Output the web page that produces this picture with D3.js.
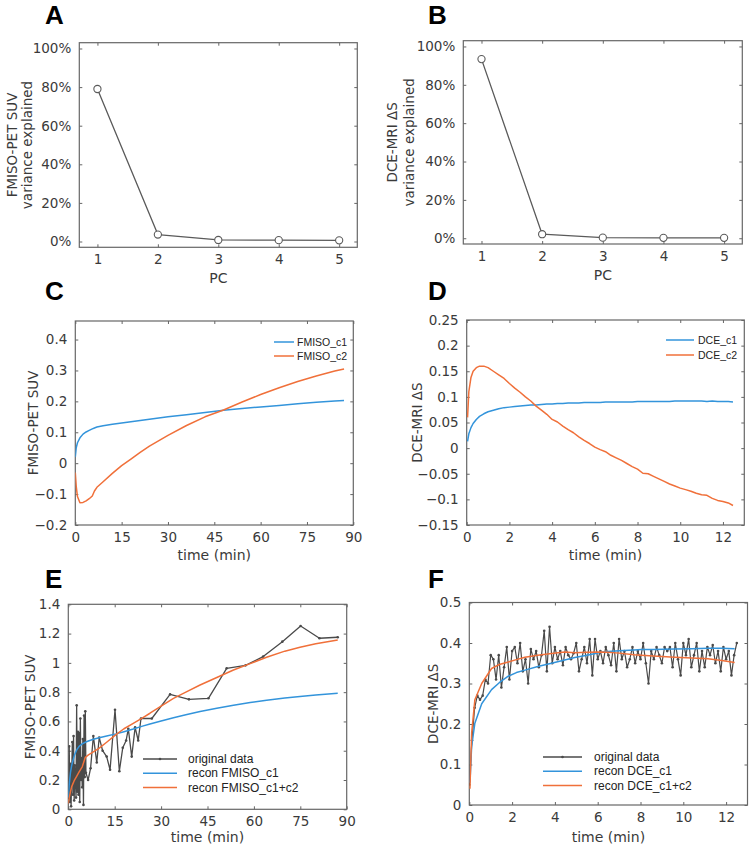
<!DOCTYPE html>
<html>
<head>
<meta charset="utf-8">
<script src="https://cdn.jsdelivr.net/npm/d3@7"></script>
<style>
  html, body { margin: 0; padding: 0; background: #fff; }
  svg { display: block; }
  .tick text { font-family: "DejaVu Sans", sans-serif; }
</style>
</head>
<body>
<svg id="chart" width="749" height="845"></svg>
<script>
// ---------------- DATA ----------------
// Panels A & B: variance explained per principal component
const pcs = [1, 2, 3, 4, 5];
const fmisoVarExplained = [79, 3.6, 0.8, 0.7, 0.6];
const dceVarExplained = [93.4, 2.1, 0.3, 0.2, 0.2];
const pctTicks = [0, 20, 40, 60, 80, 100];

// Panel C: FMISO components
const fmisoCompTime = [0, 0.3, 0.7, 1.5, 2.5, 3.5, 4.5, 5.5, 6.2, 7, 9, 12, 15, 18, 21, 24, 30, 36, 42, 48, 54, 60, 66, 72, 78, 84, 87];
const fmisoC1 = [0.02, 0.05, 0.066, 0.082, 0.094, 0.101, 0.106, 0.111, 0.114, 0.117, 0.121, 0.126, 0.13, 0.134, 0.138, 0.142, 0.15, 0.157, 0.164, 0.171, 0.177, 0.182, 0.187, 0.192, 0.197, 0.201, 0.203];
const fmisoC2 = [-0.03, -0.075, -0.108, -0.128, -0.127, -0.122, -0.115, -0.106, -0.09, -0.078, -0.06, -0.033, -0.008, 0.013, 0.035, 0.055, 0.09, 0.122, 0.15, 0.172, 0.198, 0.222, 0.244, 0.264, 0.282, 0.298, 0.305];
const fmisoCompTicksY = [-0.2, -0.1, 0, 0.1, 0.2, 0.3, 0.4];
const fmisoTimeTicks = [0, 15, 30, 45, 60, 75, 90];

// Panel D: DCE components
const dceCompTime = [0.04, 0.1, 0.2, 0.3, 0.45, 0.6, 0.8,
  1.0, 1.25, 1.5, 1.75, 2.0, 2.25, 2.5, 2.75, 3.0, 3.25, 3.5, 3.75, 4.0, 4.25, 4.5, 4.75,
  5.0, 5.25, 5.5, 5.75, 6.0, 6.25, 6.5, 6.75, 7.0, 7.25, 7.5, 7.75, 8.0, 8.25, 8.5, 8.75,
  9.0, 9.25, 9.5, 9.75, 10.0, 10.25, 10.5, 10.75, 11.0, 11.25, 11.5, 11.75, 12.0, 12.25, 12.47];
const dceC1 = [0.013, 0.028, 0.040, 0.048, 0.056, 0.062, 0.067,
  0.071, 0.074, 0.077, 0.079, 0.080, 0.081, 0.082, 0.083, 0.084, 0.084, 0.085, 0.086, 0.086, 0.087, 0.087, 0.088,
  0.088, 0.088, 0.089, 0.089, 0.089, 0.089, 0.090, 0.090, 0.090, 0.090, 0.090, 0.090, 0.091, 0.091, 0.091, 0.091,
  0.091, 0.091, 0.091, 0.092, 0.092, 0.092, 0.092, 0.092, 0.092, 0.091, 0.092, 0.091, 0.091, 0.091, 0.090];
const dceC2 = [0.06, 0.11, 0.138, 0.150, 0.157, 0.160, 0.160,
  0.157, 0.150, 0.143, 0.136, 0.126, 0.117, 0.109, 0.100, 0.092, 0.082, 0.074, 0.066, 0.056, 0.051, 0.043, 0.036,
  0.030, 0.022, 0.015, 0.009, 0.002, -0.003, -0.007, -0.014, -0.019, -0.024, -0.030, -0.036, -0.041, -0.049, -0.050, -0.055,
  -0.060, -0.065, -0.070, -0.074, -0.078, -0.081, -0.084, -0.088, -0.091, -0.092, -0.098, -0.102, -0.104, -0.107, -0.112];
const dceCompTicksY = [-0.15, -0.1, -0.05, 0, 0.05, 0.1, 0.15, 0.2, 0.25];
const dceTimeTicks = [0, 2, 4, 6, 8, 10, 12];

// Panel E: FMISO original data and reconstructions
const fmisoDataTime = [0.1, 0.3, 0.5, 0.7, 0.9, 1.1, 1.3, 1.5, 1.7, 1.9, 2.1, 2.3, 2.5, 2.7, 2.9, 3.1, 3.3, 3.5, 3.7, 3.9, 4.1, 4.3, 4.5, 4.7, 4.9, 5.1, 5.3, 5.5, 5.7,
  6.4, 7.2, 8.1, 9.2, 10.0, 11.1, 12.4, 13.5, 15.1, 16.5, 17.6, 18.7, 19.4, 20.5, 21.6, 22.6, 23.5,
  27, 32.9, 39, 45.3, 51.2, 57.3, 63, 69.2, 75.1, 81.2, 87.1];
const fmisoDataSUV = [0.08, 0.43, 0.05, 0.31, 0.02, 0.25, 0.46, 0.1, 0.5, 0.06, 0.3, 0.2, 0.08, 0.71, 0.12, 0.53, 0.1, 0.52, 0.05, 0.62, 0.2, 0.35, 0.15, 0.48, 0.03, 0.64, 0.22, 0.67, 0.25,
  0.2, 0.28, 0.5, 0.32, 0.49, 0.4, 0.36, 0.27, 0.68, 0.26, 0.42, 0.47, 0.55, 0.36, 0.56, 0.47, 0.62,
  0.62, 0.785, 0.751, 0.758, 0.963, 0.983, 1.043, 1.145, 1.252, 1.168, 1.175];
const fmisoReconTime = [0, 0.3, 0.7, 1.1, 2, 2.7, 3.5, 4.5, 5.5, 6.5, 8.1, 10, 12.4, 15.4, 18, 21, 24, 26.4, 30, 34, 38, 42.6, 48, 53.4, 58.8, 64.1, 70, 74.9, 80, 87.1];
const fmisoReconC1 = [0.08, 0.17, 0.25, 0.3, 0.37, 0.405, 0.43, 0.447, 0.458, 0.466, 0.478, 0.488, 0.5, 0.515, 0.53, 0.548, 0.568, 0.583, 0.603, 0.625, 0.645, 0.668, 0.69, 0.71, 0.729, 0.745, 0.76, 0.771, 0.781, 0.792];
const fmisoReconC12 = [0.04, 0.08, 0.12, 0.155, 0.2, 0.225, 0.255, 0.29, 0.355, 0.372, 0.392, 0.418, 0.458, 0.51, 0.55, 0.587, 0.625, 0.656, 0.705, 0.758, 0.8, 0.849, 0.9, 0.951, 0.995, 1.038, 1.08, 1.106, 1.13, 1.156];
const fmisoSUVTicks = [0, 0.2, 0.4, 0.6, 0.8, 1, 1.2, 1.4];

// Panel F: DCE original data and reconstructions
const dceDataTime = [0, 0.125, 0.25, 0.375, 0.5, 0.625, 0.75, 0.875, 1.0, 1.125, 1.25, 1.375, 1.5, 1.625, 1.75, 1.875,
  2.0, 2.125, 2.25, 2.375, 2.5, 2.625, 2.75, 2.875, 3.0, 3.125, 3.25, 3.375, 3.5, 3.625, 3.75, 3.875,
  4.0, 4.125, 4.25, 4.375, 4.5, 4.625, 4.75, 4.875, 5.0, 5.125, 5.25, 5.375, 5.5, 5.625, 5.75, 5.875,
  6.0, 6.125, 6.25, 6.375, 6.5, 6.625, 6.75, 6.875, 7.0, 7.125, 7.25, 7.375, 7.5, 7.625, 7.75, 7.875,
  8.0, 8.125, 8.25, 8.375, 8.5, 8.625, 8.75, 8.875, 9.0, 9.125, 9.25, 9.375, 9.5, 9.625, 9.75, 9.875,
  10.0, 10.125, 10.25, 10.375, 10.5, 10.625, 10.75, 10.875, 11.0, 11.125, 11.25, 11.375, 11.5, 11.625, 11.75, 11.875,
  12.0, 12.125, 12.25, 12.375, 12.5];
const dceDataDS = [0.05, 0.16, 0.24, 0.27, 0.26, 0.27, 0.31, 0.30, 0.37, 0.36, 0.31, 0.37, 0.29, 0.34, 0.39, 0.31,
  0.38, 0.39, 0.35, 0.40, 0.33, 0.36, 0.30, 0.385, 0.36, 0.38, 0.34, 0.37, 0.43, 0.33, 0.44, 0.35,
  0.39, 0.36, 0.38, 0.345, 0.39, 0.37, 0.36, 0.375, 0.40, 0.33, 0.36, 0.39, 0.35, 0.41, 0.32, 0.41,
  0.36, 0.38, 0.35, 0.39, 0.37, 0.345, 0.40, 0.33, 0.41, 0.36, 0.38, 0.34, 0.36, 0.39, 0.35, 0.38,
  0.36, 0.40, 0.35, 0.30, 0.38, 0.36, 0.39, 0.37, 0.35, 0.39, 0.38, 0.39, 0.34, 0.40, 0.36, 0.32,
  0.40, 0.37, 0.41, 0.34, 0.37, 0.40, 0.33, 0.38, 0.34, 0.39, 0.37, 0.395, 0.35, 0.38, 0.33, 0.39,
  0.36, 0.38, 0.32, 0.37, 0.40];
const dceReconTime = [0.03, 0.11, 0.26, 0.58, 1.04, 1.4, 1.82, 2.2, 2.6, 3.2, 3.84, 4.46, 4.93, 5.5, 6.17, 6.48, 7, 7.7, 8.04, 8.6, 9.6, 10.4, 11.15, 11.8, 12.4];
const dceReconC1 = [0.055, 0.145, 0.202, 0.25, 0.285, 0.302, 0.318, 0.327, 0.333, 0.342, 0.35, 0.358, 0.364, 0.37, 0.377, 0.379, 0.381, 0.383, 0.384, 0.384, 0.385, 0.386, 0.387, 0.387, 0.386];
const dceReconC12 = [0.04, 0.178, 0.26, 0.3, 0.337, 0.347, 0.353, 0.359, 0.365, 0.37, 0.374, 0.378, 0.376, 0.377, 0.378, 0.377, 0.375, 0.371, 0.37, 0.368, 0.365, 0.363, 0.361, 0.357, 0.352];
const dceDSTicks = [0, 0.1, 0.2, 0.3, 0.4, 0.5];

// ---------------- STYLE ----------------
const BLUE = "#3394db";
const ORANGE = "#f0703a";
const GRAY = "#5a5a5a";
const BOX = "#666666";
const TXT = "#3a3a3a";

const svg = d3.select("#chart");

function panel(cfg) {
  const g = svg.append("g");
  const x = d3.scaleLinear().domain(cfg.xDomain).range([cfg.left, cfg.right]);
  const y = d3.scaleLinear().domain(cfg.yDomain).range([cfg.bottom, cfg.top]);
  const tl = 3;

  // axes (ticks inward, on all four sides)
  const ax = [
    [d3.axisBottom(x).tickValues(cfg.xTicks).tickFormat(cfg.xFmt || d3.format("")), `translate(0,${cfg.bottom})`, true, 7],
    [d3.axisTop(x).tickValues(cfg.xTicks).tickFormat(""), `translate(0,${cfg.top})`, false, 0],
    [d3.axisLeft(y).tickValues(cfg.yTicks).tickFormat(cfg.yFmt || d3.format("")), `translate(${cfg.left},0)`, true, 8],
    [d3.axisRight(y).tickValues(cfg.yTicks).tickFormat(""), `translate(${cfg.right},0)`, false, 0]
  ];
  ax.forEach(([a, tr, lab, pad]) => {
    a.tickSizeInner(-tl).tickSizeOuter(0).tickPadding(pad);
    const ag = g.append("g").attr("transform", tr).call(a);
    ag.select(".domain").remove();
    ag.selectAll(".tick line").attr("stroke", BOX).attr("stroke-width", 1);
    ag.selectAll(".tick text").attr("fill", TXT).attr("font-size", "13.5px");
  });
  // box
  g.append("rect").attr("x", cfg.left).attr("y", cfg.top)
    .attr("width", cfg.right - cfg.left).attr("height", cfg.bottom - cfg.top)
    .attr("fill", "none").attr("stroke", BOX).attr("stroke-width", 1.2);

  // clip
  const clipId = "clip" + cfg.letter;
  svg.append("clipPath").attr("id", clipId).append("rect")
    .attr("x", cfg.left).attr("y", cfg.top)
    .attr("width", cfg.right - cfg.left).attr("height", cfg.bottom - cfg.top);
  const plot = g.append("g").attr("clip-path", `url(#${clipId})`);

  cfg.series.forEach(s => {
    const pts = s.x.map((d, i) => [d, s.y[i]]);
    const line = d3.line().x(d => x(d[0])).y(d => y(d[1]));
    plot.append("path").datum(pts).attr("d", line)
      .attr("fill", "none").attr("stroke", s.color).attr("stroke-width", s.width || 1.5)
      .attr("stroke-linejoin", "round");
    if (s.marker === "circle") {
      plot.selectAll(null).data(pts).enter().append("circle")
        .attr("cx", d => x(d[0])).attr("cy", d => y(d[1])).attr("r", 3.6)
        .attr("fill", "#fff").attr("stroke", s.color).attr("stroke-width", 1.1);
    } else if (s.marker === "dot") {
      plot.selectAll(null).data(pts).enter().append("circle")
        .attr("cx", d => x(d[0])).attr("cy", d => y(d[1])).attr("r", 1.3)
        .attr("fill", s.color);
    }
  });

  // axis titles
  g.append("text").attr("x", (cfg.left + cfg.right) / 2).attr("y", cfg.xTitleY)
    .attr("text-anchor", "middle").attr("dominant-baseline", "central")
    .attr("font-family", "DejaVu Sans, sans-serif").attr("font-size", "14px").attr("fill", TXT)
    .text(cfg.xTitle);
  const cy = (cfg.top + cfg.bottom) / 2;
  cfg.yTitle.forEach((t, i) => {
    g.append("text")
      .attr("transform", `translate(${cfg.yTitleX[i]},${cy}) rotate(-90)`)
      .attr("text-anchor", "middle").attr("dominant-baseline", "central")
      .attr("font-family", "DejaVu Sans, sans-serif").attr("font-size", "13.5px").attr("fill", TXT)
      .text(t);
  });

  // panel letter
  g.append("text").attr("x", cfg.letterX).attr("y", cfg.letterY)
    .attr("font-family", "Liberation Sans, Arial, sans-serif").attr("font-weight", "bold")
    .attr("font-size", "26px").attr("fill", "#000").text(cfg.letter);

  // legend
  if (cfg.legend) {
    const L = cfg.legend;
    L.items.forEach((it, i) => {
      const ly = L.y + i * L.dy;
      g.append("line").attr("x1", L.x1).attr("x2", L.x2).attr("y1", ly).attr("y2", ly)
        .attr("stroke", it.color).attr("stroke-width", 1.5);
      if (it.marker === "dot") {
        g.append("circle").attr("cx", (L.x1 + L.x2) / 2).attr("cy", ly).attr("r", 1.3).attr("fill", it.color);
      }
      g.append("text").attr("x", L.tx).attr("y", ly).attr("dominant-baseline", "central")
        .attr("font-family", "Liberation Sans, Arial, sans-serif").attr("font-size", L.fs)
        .attr("fill", "#222").text(it.label);
    });
  }
}

const pct = d => d + "%";

// A
panel({
  letter: "A", letterX: 45, letterY: 23.5,
  left: 79.3, right: 357.3, top: 42.7, bottom: 247.3,
  xDomain: [0.7, 5.3], yDomain: [-3, 103],
  xTicks: pcs, yTicks: pctTicks, yFmt: pct,
  xTitle: "PC", xTitleY: 278,
  yTitle: ["FMISO-PET SUV", "variance explained"], yTitleX: [12, 27],
  series: [{ x: pcs, y: fmisoVarExplained, color: GRAY, width: 1.3, marker: "circle" }]
});
// B
panel({
  letter: "B", letterX: 428, letterY: 23.5,
  left: 463.3, right: 742.3, top: 40.7, bottom: 244,
  xDomain: [0.7, 5.3], yDomain: [-3, 103],
  xTicks: pcs, yTicks: pctTicks, yFmt: pct,
  xTitle: "PC", xTitleY: 275,
  yTitle: ["DCE-MRI \u0394S", "variance explained"], yTitleX: [392, 408.5],
  series: [{ x: pcs, y: dceVarExplained, color: GRAY, width: 1.3, marker: "circle" }]
});
// C
panel({
  letter: "C", letterX: 45, letterY: 300,
  left: 75.3, right: 353.3, top: 321, bottom: 525,
  xDomain: [0, 90], yDomain: [-0.2, 0.46],
  xTicks: fmisoTimeTicks, yTicks: fmisoCompTicksY, yFmt: d3.format("~g"),
  xTitle: "time (min)", xTitleY: 555,
  yTitle: ["FMISO-PET SUV"], yTitleX: [33],
  series: [
    { x: fmisoCompTime, y: fmisoC1, color: BLUE },
    { x: fmisoCompTime, y: fmisoC2, color: ORANGE }
  ],
  legend: { x1: 274, x2: 294, tx: 297, y: 342, dy: 14, fs: "10.5px",
    items: [{ label: "FMISO_c1", color: BLUE }, { label: "FMISO_c2", color: ORANGE }] }
});
// D
panel({
  letter: "D", letterX: 428, letterY: 300,
  left: 466.7, right: 744.3, top: 320, bottom: 525,
  xDomain: [0, 13], yDomain: [-0.15, 0.25],
  xTicks: dceTimeTicks, yTicks: dceCompTicksY, yFmt: d3.format("~g"),
  xTitle: "time (min)", xTitleY: 555,
  yTitle: ["DCE-MRI  \u0394S"], yTitleX: [416.5],
  series: [
    { x: dceCompTime, y: dceC1, color: BLUE },
    { x: dceCompTime, y: dceC2, color: ORANGE }
  ],
  legend: { x1: 666, x2: 694, tx: 698, y: 340, dy: 15, fs: "10.5px",
    items: [{ label: "DCE_c1", color: BLUE }, { label: "DCE_c2", color: ORANGE }] }
});
// E
panel({
  letter: "E", letterX: 45, letterY: 588,
  left: 68.3, right: 346.7, top: 604.3, bottom: 809.3,
  xDomain: [0, 90], yDomain: [0, 1.4],
  xTicks: fmisoTimeTicks, yTicks: fmisoSUVTicks, yFmt: d3.format("~g"),
  xTitle: "time (min)", xTitleY: 837,
  yTitle: ["FMISO-PET SUV"], yTitleX: [30],
  series: [
    { x: fmisoDataTime, y: fmisoDataSUV, color: "#4a4a4a", width: 1.3, marker: "dot" },
    { x: fmisoReconTime, y: fmisoReconC1, color: BLUE },
    { x: fmisoReconTime, y: fmisoReconC12, color: ORANGE }
  ],
  legend: { x1: 143, x2: 177, tx: 188, y: 759, dy: 14.3, fs: "12px",
    items: [{ label: "original data", color: "#4a4a4a", marker: "dot" },
            { label: "recon FMISO_c1", color: BLUE },
            { label: "recon FMISO_c1+c2", color: ORANGE }] }
});
// F
panel({
  letter: "F", letterX: 428, letterY: 588,
  left: 469.3, right: 747.5, top: 602.5, bottom: 805,
  xDomain: [0, 13], yDomain: [0, 0.5],
  xTicks: dceTimeTicks, yTicks: dceDSTicks, yFmt: d3.format("~g"),
  xTitle: "time (min)", xTitleY: 837,
  yTitle: ["DCE-MRI  \u0394S"], yTitleX: [433],
  series: [
    { x: dceDataTime, y: dceDataDS, color: "#4a4a4a", width: 1.2, marker: "dot" },
    { x: dceReconTime, y: dceReconC1, color: BLUE },
    { x: dceReconTime, y: dceReconC12, color: ORANGE }
  ],
  legend: { x1: 543, x2: 582, tx: 594, y: 757, dy: 14.3, fs: "12px",
    items: [{ label: "original data", color: "#4a4a4a", marker: "dot" },
            { label: "recon DCE_c1", color: BLUE },
            { label: "recon DCE_c1+c2", color: ORANGE }] }
});
</script>
</body>
</html>
